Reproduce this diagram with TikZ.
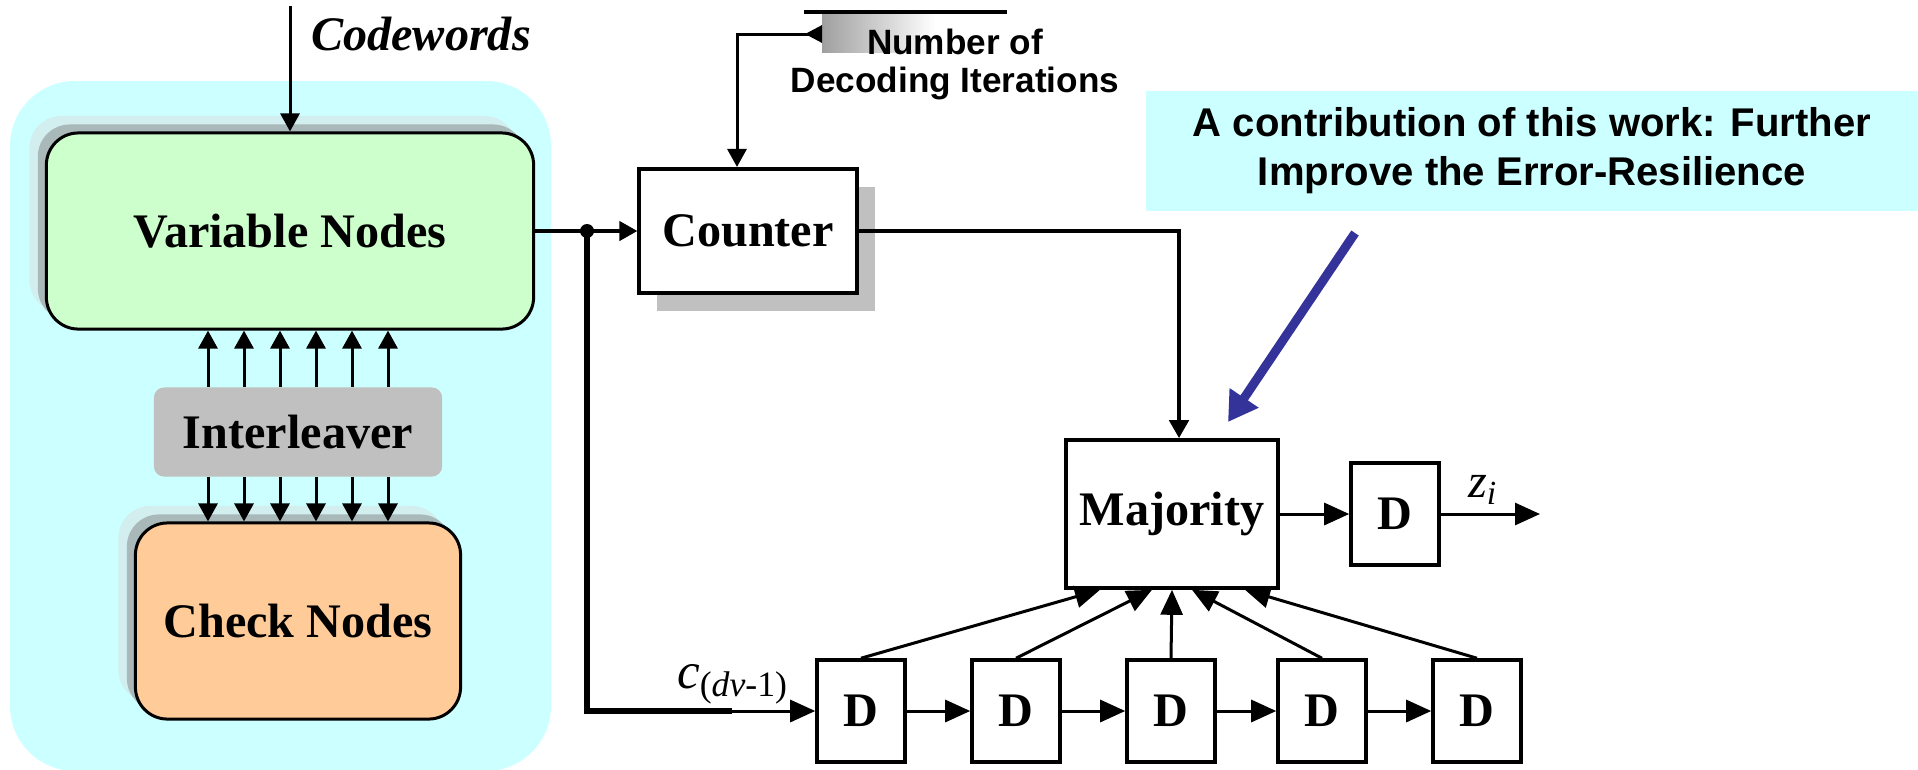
\documentclass[tikz,border=0pt]{standalone}
\usepackage{fontspec}
\setmainfont{Liberation Serif}
\setsansfont{Liberation Sans}
\usepackage{xcolor}
\usetikzlibrary{arrows.meta, positioning, calc, shadows}
\definecolor{bgcyan}{HTML}{CCFFFF}
\definecolor{varfill}{HTML}{CCFFCC}
\definecolor{chkfill}{HTML}{FFCC99}
\definecolor{ilvgray}{HTML}{C0C0C0}
\definecolor{shdark}{HTML}{A9B9B9}
\definecolor{shlight}{HTML}{D2EEEE}
\definecolor{notearrow}{HTML}{333399}

\begin{document}
\begin{tikzpicture}[x=0.01cm, y=-0.01cm,
    font=\fontsize{13.7}{16}\selectfont\bfseries,
    arr/.style={-{Triangle[length=0.18cm, width=0.19cm]}, line width=0.03cm},
    bigarr/.style={-{Triangle[length=0.25cm, width=0.22cm]}, line width=0.03cm},
    dbox/.style={draw, line width=0.035cm, fill=white, minimum width=0.88cm, minimum height=1.02cm, inner sep=0pt},
    nodebox/.style={draw, line width=0.03cm, rounded corners=0.32cm, inner sep=0pt,
        general shadow={fill=shlight, shadow xshift=-0.17cm, shadow yshift=0.17cm},
        general shadow={fill=shdark, shadow xshift=-0.085cm, shadow yshift=0.085cm}}]
    \useasboundingbox (0,0) rectangle (1918,769);

    % decoder part
    \fill[bgcyan, rounded corners=0.65cm] (10,81) rectangle (551,771);
    \node[nodebox, fill=varfill, minimum width=4.87cm, minimum height=1.96cm] (var) at (290,231) {Variable Nodes};
    \node[fill=ilvgray, rounded corners=0.1cm, minimum width=2.88cm, minimum height=0.89cm] (ilv) at (298,432) {Interleaver};
    \node[nodebox, fill=chkfill, minimum width=3.25cm, minimum height=1.96cm] (chk) at (298,621) {Check Nodes};

    \coordinate (cwin) at (290,6);
    \node[font=\fontsize{13.7}{16}\selectfont\bfseries\itshape] (cwlbl) at (421,34) {Codewords};
    \draw[arr] (cwin) -- (var.north);

    \foreach \dx in {-90,-54,-18,18,54,90} {
        \coordinate (up) at ([xshift=\dx*0.01cm]ilv.north);
        \coordinate (dn) at ([xshift=\dx*0.01cm]ilv.south);
        \draw[arr] (up) -- (up |- var.south);
        \draw[arr] (dn) -- (dn |- chk.north);
    }

    % iterations and counter
    \shade[left color=gray!75, right color=white] (822,14) rectangle (935,52);
    \draw[line width=0.04cm] (804,12) -- (1007,12);
    \node[font=\sffamily\fontsize{10}{10.8}\selectfont\bfseries, align=center] (iter) at (955,64) {Number of\\Decoding Iterations};
    \coordinate (iterin) at (822,34);

    \node[draw, line width=0.04cm, fill=white, minimum width=2.17cm, minimum height=1.24cm,
        general shadow={fill=ilvgray, shadow xshift=0.18cm, shadow yshift=-0.18cm}] (cnt) at (748,231) {Counter};
    \draw[line width=0.03cm, {Triangle[reversed, length=0.17cm, width=0.17cm]}-{Triangle[length=0.18cm, width=0.19cm]}]
        (iterin) -| ([xshift=-0.11cm]cnt.north);

    \coordinate (split) at (587,231);
    \draw[arr, line width=0.04cm] (var.east) -- (cnt.west);
    \fill (split) circle[radius=0.07cm];

    % majority voting
    \node[draw, line width=0.035cm, fill=white, minimum width=2.12cm, minimum height=1.48cm] (maj) at (1172,514) {Majority};
    \node[dbox] (dout) at (1395,514) {D};
    \coordinate (zout) at (1540,514);
    \draw[arr, line width=0.045cm] (cnt.east) -| ([xshift=0.07cm]maj.north);
    \draw[bigarr] (maj) -- (dout);
    \draw[bigarr] (dout) -- (zout);
    \node[font=\fontsize{13.7}{16}\selectfont\mdseries] (zlbl) at (1483,490) {\textit{z}\textsubscript{\textit{i}}};

    \foreach \i/\x in {1/861, 2/1016, 3/1171, 4/1322, 5/1477}
        \node[dbox] (d\i) at (\x,711) {D};
    \foreach \i [count=\j from 2] in {1,...,4}
        \draw[bigarr] (d\i) -- (d\j);
    \foreach \i/\dx in {1/-72, 2/-20, 3/0, 4/20, 5/73}
        \draw[bigarr] (d\i.north) -- ([xshift=\dx*0.01cm]maj.south);

    \coordinate (cin) at (732,711);
    \draw[line width=0.055cm] (split) |- (cin);
    \draw[bigarr] (cin) -- (d1);
    \node[font=\fontsize{14.5}{16}\selectfont\mdseries] (clbl) at (733,684) {\textit{c}\textsubscript{(\textit{dv}-1)}};

    % contribution note
    \node[fill=bgcyan, minimum width=7.71cm, minimum height=1.2cm, align=center,
        font=\sffamily\fontsize{11.4}{14}\selectfont\bfseries] (note) at (1532,151)
        {A contribution of this work: Further\\Improve the Error-Resilience};
    \coordinate (nt) at (1355,233);
    \coordinate (nh) at (1228,422);
    \draw[notearrow, line width=0.09cm, -{Triangle[length=0.29cm, width=0.33cm]}] (nt) -- (nh);
\end{tikzpicture}
\end{document}
